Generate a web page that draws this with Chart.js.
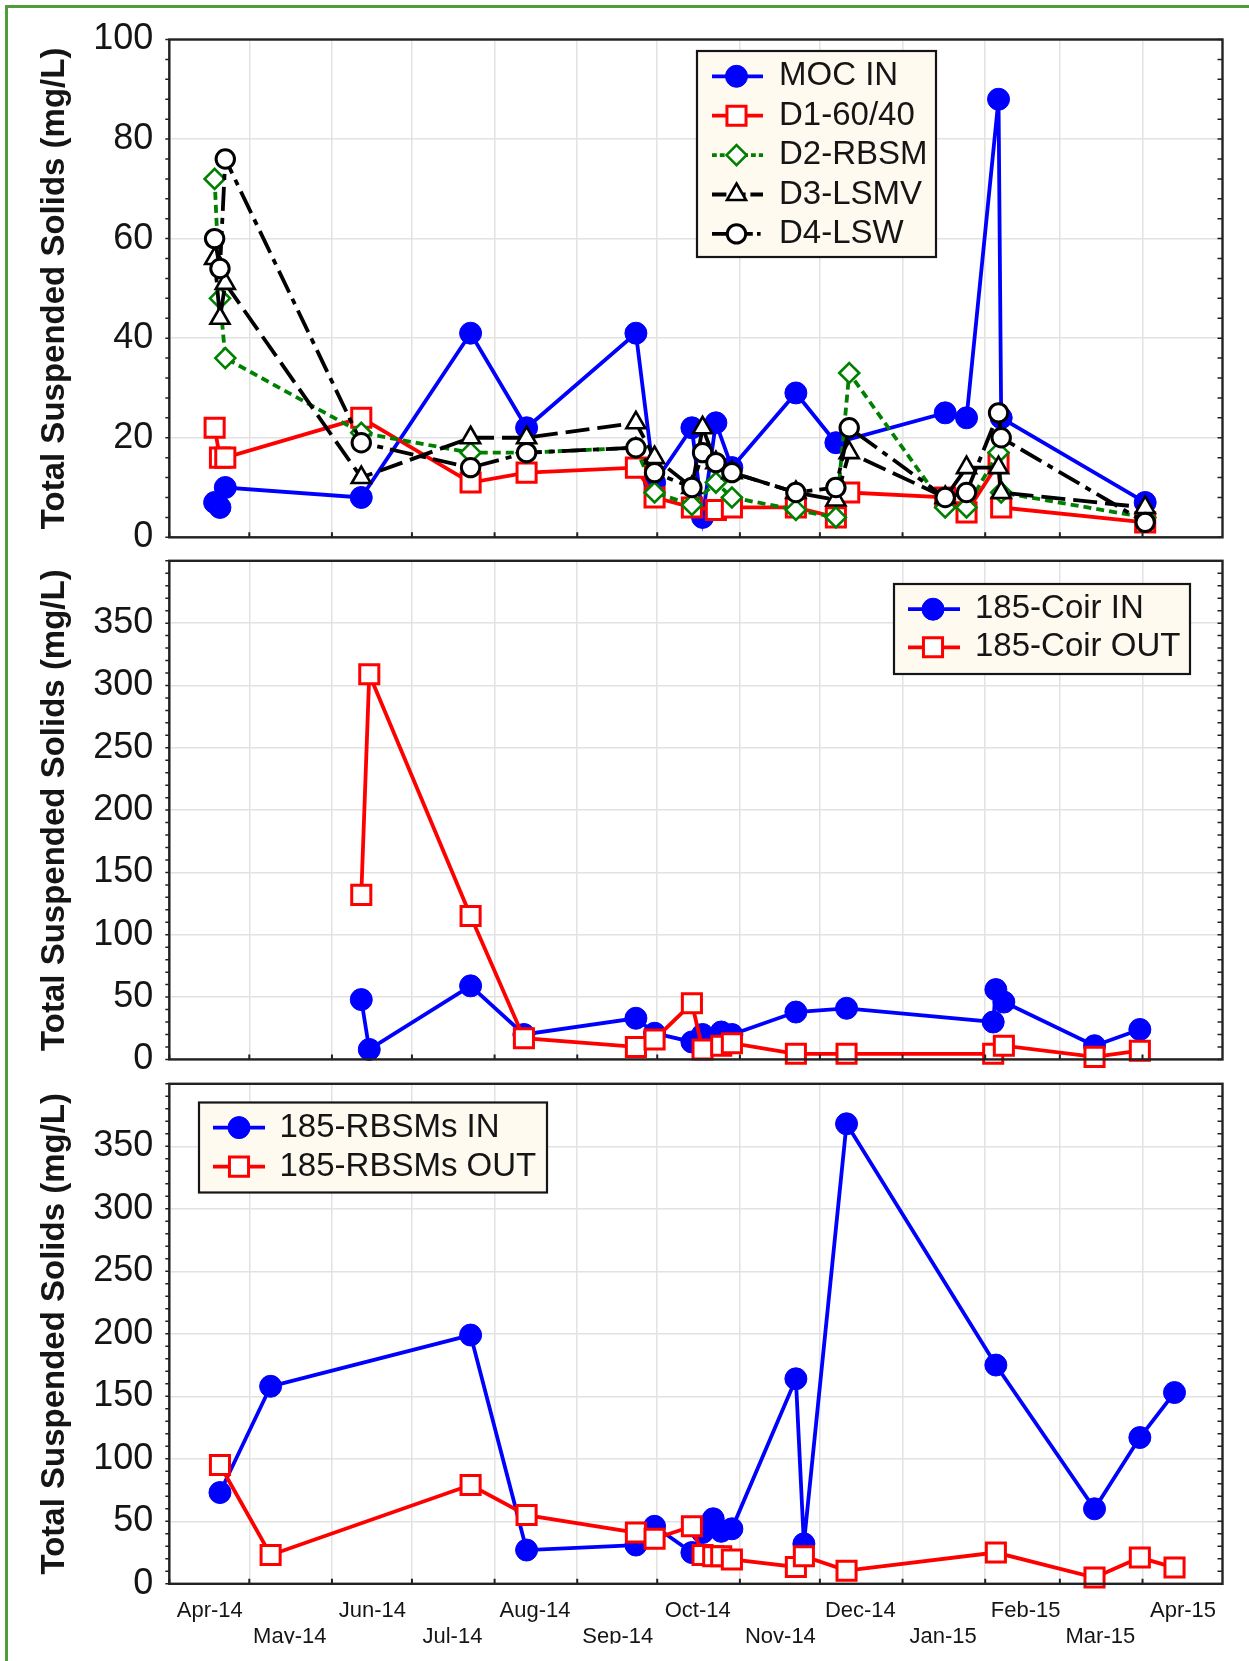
<!DOCTYPE html>
<html>
<head>
<meta charset="utf-8">
<title>Total Suspended Solids</title>
<script src="https://cdn.jsdelivr.net/npm/chart.js@4.4.1/dist/chart.umd.min.js"></script>
<style>
  html, body { margin: 0; padding: 0; background: #fff; }
  #page { position: relative; width: 1249px; height: 1661px; overflow: hidden; }
  #frame { position: absolute; left: 5px; top: 5px; width: 1260px; height: 1670px; border-top: 3px solid #4f9d3a; border-left: 3px solid #4f9d3a; }
  canvas { position: absolute; left: 0; top: 0; }
</style>
</head>
<body>
<div id="page">
  <div id="frame"></div>
  <canvas id="chartTop" width="1249" height="1661"></canvas>
  <canvas id="chartMid" width="1249" height="1661"></canvas>
  <canvas id="chartBot" width="1249" height="1661"></canvas>
</div>
<script>
// x axis: month boundaries and their labels
const monthStarts = ['2014-04-01', '2014-05-01', '2014-06-01', '2014-07-01', '2014-08-01', '2014-09-01',
  '2014-10-01', '2014-11-01', '2014-12-01', '2015-01-01', '2015-02-01', '2015-03-01', '2015-04-01'];
const monthLabels = ['Apr-14', 'May-14', 'Jun-14', 'Jul-14', 'Aug-14', 'Sep-14',
  'Oct-14', 'Nov-14', 'Dec-14', 'Jan-15', 'Feb-15', 'Mar-15', 'Apr-15'];
const axisEnd = '2015-05-01';

// top panel: MOC inflow and the four D media
const topDates = ['2014-04-18', '2014-04-20', '2014-04-22', '2014-06-12', '2014-07-23', '2014-08-13',
  '2014-09-23', '2014-09-30', '2014-10-14', '2014-10-18', '2014-10-23', '2014-10-29', '2014-11-22',
  '2014-12-07', '2014-12-12', '2015-01-17', '2015-01-25', '2015-02-06', '2015-02-07', '2015-04-02'];
const mocIn = [7, 6, 10, 8, 41, 22, 41, 11, 22, 4, 23, 14, 29, 19, null, 25, 24, 88, 24, 7];
const d1 = [22, 16, 16, 24, 11, 13, 14, 8, 6, null, 5.5, 6, 6, 4, 9, 8, 5, 15, 6, 3];
const d2 = [72, 48, 36, 21, 17, 17, 18, 9, 6.5, null, 11, 8, 5.5, 4, 33, 6, 6, 17, 9, 4];
const d3 = [56, 44, 51, 12, 20, 20, 23, 16, 10, 22, 15, 13, 9, 7.5, 17, 8, 14, 14, 9, 6];
const d4 = [60, 54, 76, 19, 14, 17, 18, 13, 10, 17, 15, 13, 9, 10, 22, 8, 9, 25, 20, 3];

// middle panel: 185-Coir
const coirDates = ['2014-06-12', '2014-06-15', '2014-07-23', '2014-08-12', '2014-09-23', '2014-09-30',
  '2014-10-14', '2014-10-18', '2014-10-25', '2014-10-29', '2014-11-22', '2014-12-11', '2015-02-04',
  '2015-02-05', '2015-02-08', '2015-03-14', '2015-03-31'];
const coirIn = [48, 8, 59, 20, 33, 21, 14, 20, 22, 20, 38, 41, 30, 56, 46, 11, 24];
const coirOut = [132, 309, 115, 17, 10, 16, 45, 8, 11, 13, 4.5, 4.5, 4.5, null, 11, 2, 7];

// bottom panel: 185-RBSMs
const rbsmDates = ['2014-04-20', '2014-05-09', '2014-07-23', '2014-08-13', '2014-09-23', '2014-09-30',
  '2014-10-14', '2014-10-18', '2014-10-22', '2014-10-25', '2014-10-29', '2014-11-22', '2014-11-25',
  '2014-12-11', '2015-02-05', '2015-03-14', '2015-03-31', '2015-04-13'];
const rbsmIn = [73, 158, 199, 27, 31, 46, 25, 41, 52, 42, 44, 164, 32, 368, 175, 60, 117, 153];
const rbsmOut = [95, 23, 79, 55, 41, 36, 46, 23, 22, 22, 19.5, 13.5, 22, 10.5, 25, 5, 21, 13];

const FONT = "'Liberation Sans', Arial, sans-serif";
const GRID = '#e2e2e2';
const INK = '#151515';
const START = Date.UTC(2014, 3, 1);

function dayOf(s) {
  const [y, m, d] = s.split('-').map(Number);
  return (Date.UTC(y, m - 1, d) - START) / 86400000;
}

function points(dates, values) {
  return dates.map((d, i) => ({ x: dayOf(d), y: values[i] })).filter(p => p.y !== null);
}

const styles = {
  blue: { borderColor: '#0000ff', backgroundColor: '#0000ff', borderWidth: 3.8, pointStyle: 'circle',
    pointRadius: 11, pointBorderWidth: 1, pointBackgroundColor: '#0000ff', pointBorderColor: '#0000ff' },
  red: { borderColor: '#ff0000', backgroundColor: '#ffffff', borderWidth: 3.8, pointStyle: 'rect',
    pointRadius: 13.5, pointBorderWidth: 3, pointBackgroundColor: '#ffffff', pointBorderColor: '#ff0000' },
  green: { borderColor: '#008000', backgroundColor: '#ffffff', borderWidth: 3.8, borderDash: [8, 5], pointStyle: 'rectRot',
    pointRadius: 10, pointBorderWidth: 2.6, pointBackgroundColor: '#ffffff', pointBorderColor: '#008000' },
  tri: { borderColor: '#000000', backgroundColor: '#ffffff', borderWidth: 3.8, borderDash: [24, 8], pointStyle: 'triangle',
    pointRadius: 11, pointBorderWidth: 2.6, pointBackgroundColor: '#ffffff', pointBorderColor: '#000000' },
  ring: { borderColor: '#000000', backgroundColor: '#ffffff', borderWidth: 3.8, borderDash: [24, 7, 6, 7], pointStyle: 'circle',
    pointRadius: 9.2, pointBorderWidth: 3, pointBackgroundColor: '#ffffff', pointBorderColor: '#000000' }
};

function series(label, dates, values, style, order) {
  return Object.assign({
    label, data: points(dates, values), order,
    tension: 0, fill: false, clip: false, pointHoverRadius: style.pointRadius
  }, style);
}

function drawMarker(ctx, style, r, x, y) {
  ctx.beginPath();
  if (style === 'circle') {
    ctx.arc(x, y, r, 0, Math.PI * 2);
  } else if (style === 'rect') {
    const s = r * Math.SQRT1_2;
    ctx.rect(x - s, y - s, 2 * s, 2 * s);
  } else if (style === 'rectRot') {
    ctx.moveTo(x - r, y); ctx.lineTo(x, y - r); ctx.lineTo(x + r, y); ctx.lineTo(x, y + r);
    ctx.closePath();
  } else if (style === 'triangle') {
    for (let k = 0; k < 3; k++) {
      const a = k * 2 * Math.PI / 3;
      const px = x + Math.sin(a) * r, py = y - Math.cos(a) * r;
      if (k === 0) ctx.moveTo(px, py); else ctx.lineTo(px, py);
    }
    ctx.closePath();
  }
  ctx.fill();
  ctx.stroke();
}

// plot frame, minor ticks on the y sides, month ticks on the bottom
const framePlugin = {
  id: 'frame',
  afterDatasetsDraw(chart, args, opts) {
    const { ctx, chartArea: a, scales } = chart;
    const x = scales.x, y = scales.y;
    ctx.save();
    ctx.strokeStyle = '#222';
    ctx.lineWidth = 1.5;
    ctx.beginPath();
    for (let v = y.min; v <= y.max + 1e-9; v += opts.minor) {
      const py = y.getPixelForValue(v);
      ctx.moveTo(a.right, py); ctx.lineTo(a.right - 5, py);
      ctx.moveTo(a.left, py); ctx.lineTo(a.left - 4, py);
    }
    ctx.stroke();
    ctx.lineWidth = 2;
    ctx.beginPath();
    monthStarts.forEach(d => {
      const px = x.getPixelForValue(dayOf(d));
      ctx.moveTo(px, a.bottom); ctx.lineTo(px, a.bottom - 5);
    });
    ctx.stroke();
    ctx.lineWidth = 2.4;
    ctx.strokeRect(a.left, a.top, a.right - a.left, a.bottom - a.top);
    ctx.restore();
  }
};

// boxed legend with line + marker samples
const boxLegend = {
  id: 'boxLegend',
  afterDraw(chart, args, o) {
    const ctx = chart.ctx;
    ctx.save();
    ctx.fillStyle = '#fffaf0';
    ctx.fillRect(o.x, o.y, o.w, o.h);
    ctx.lineWidth = 2.2;
    ctx.strokeStyle = INK;
    ctx.strokeRect(o.x, o.y, o.w, o.h);
    chart.data.datasets.forEach((ds, i) => {
      const y = o.rows[i];
      ctx.setLineDash(ds.borderDash ? ds.borderDash.map(v => v * 0.6) : []);
      ctx.strokeStyle = ds.borderColor;
      ctx.lineWidth = ds.borderWidth;
      ctx.beginPath(); ctx.moveTo(o.line[0], y); ctx.lineTo(o.line[1], y); ctx.stroke();
      ctx.setLineDash([]);
      ctx.fillStyle = ds.pointBackgroundColor;
      ctx.strokeStyle = ds.pointBorderColor;
      ctx.lineWidth = ds.pointBorderWidth;
      drawMarker(ctx, ds.pointStyle, ds.pointRadius, o.marker, y);
      ctx.fillStyle = INK;
      ctx.font = `33px ${FONT}`;
      ctx.textBaseline = 'middle';
      ctx.textAlign = 'left';
      ctx.fillText(ds.label, o.text, y);
    });
    ctx.restore();
  }
};

function xScale(showLabels) {
  return {
    type: 'linear',
    position: 'bottom',
    min: dayOf(monthStarts[0]),
    max: dayOf(axisEnd),
    afterBuildTicks: s => { s.ticks = monthStarts.map(d => ({ value: dayOf(d) })); },
    afterFit: s => { s.height = showLabels ? 60 : 0; },
    grid: { color: GRID, lineWidth: 1.5, drawTicks: false },
    border: { display: false },
    ticks: {
      display: showLabels, autoSkip: false, maxRotation: 0, minRotation: 0,
      padding: 14, labelOffset: 40.5, color: INK,
      font: { family: FONT, size: 22 },
      callback: (v, i) => i % 2 === 0 ? [monthLabels[i]] : ['', monthLabels[i]]
    }
  };
}

function yScale(max, step) {
  return {
    min: 0,
    max,
    afterFit: s => { s.width = 149.3; },
    grid: { color: GRID, lineWidth: 1.5, drawTicks: false },
    border: { display: false },
    ticks: {
      stepSize: step, padding: 16, color: INK,
      font: { family: FONT, size: 36 },
      callback: v => (max === 400 && v === 400) ? '' : v
    },
    title: {
      display: true, text: 'Total Suspended Solids (mg/L)', color: INK,
      font: { family: FONT, size: 33, weight: 'bold' },
      padding: { top: 15, bottom: 0 }
    }
  };
}

function makeChart(id, datasets, o) {
  return new Chart(document.getElementById(id), {
    type: 'line',
    data: { datasets },
    options: {
      responsive: false,
      animation: false,
      devicePixelRatio: 1,
      events: [],
      layout: { padding: { left: 20, right: 26.5, top: o.top, bottom: 1661 - o.bottom - (o.labels ? 60 : 0) } },
      scales: { x: xScale(o.labels), y: yScale(o.max, o.step) },
      plugins: {
        legend: { display: false },
        tooltip: { enabled: false },
        frame: { minor: o.minor },
        boxLegend: o.legend
      }
    },
    plugins: [framePlugin, boxLegend]
  });
}

makeChart('chartTop', [
  series('MOC IN', topDates, mocIn, styles.blue, 5),
  series('D1-60/40', topDates, d1, styles.red, 4),
  series('D2-RBSM', topDates, d2, styles.green, 3),
  series('D3-LSMV', topDates, d3, styles.tri, 2),
  series('D4-LSW', topDates, d4, styles.ring, 1)
], {
  top: 39.5, bottom: 537.3, labels: false, max: 100, step: 20, minor: 4,
  legend: { x: 697, y: 51, w: 239, h: 206, rows: [76.3, 115.7, 155.1, 194.5, 233.9], line: [712, 763], marker: 736.5, text: 779 }
});

makeChart('chartMid', [
  series('185-Coir IN', coirDates, coirIn, styles.blue, 2),
  series('185-Coir OUT', coirDates, coirOut, styles.red, 1)
], {
  top: 560.8, bottom: 1059.4, labels: false, max: 400, step: 50, minor: 10,
  legend: { x: 894, y: 584, w: 296, h: 90, rows: [609.2, 647.3], line: [908, 960], marker: 933, text: 975 }
});

makeChart('chartBot', [
  series('185-RBSMs IN', rbsmDates, rbsmIn, styles.blue, 2),
  series('185-RBSMs OUT', rbsmDates, rbsmOut, styles.red, 1)
], {
  top: 1083.8, bottom: 1583.8, labels: true, max: 400, step: 50, minor: 10,
  legend: { x: 199, y: 1102.5, w: 348, h: 90, rows: [1127.6, 1166.6], line: [213, 265], marker: 239, text: 279.5 }
});
</script>
</body>
</html>
